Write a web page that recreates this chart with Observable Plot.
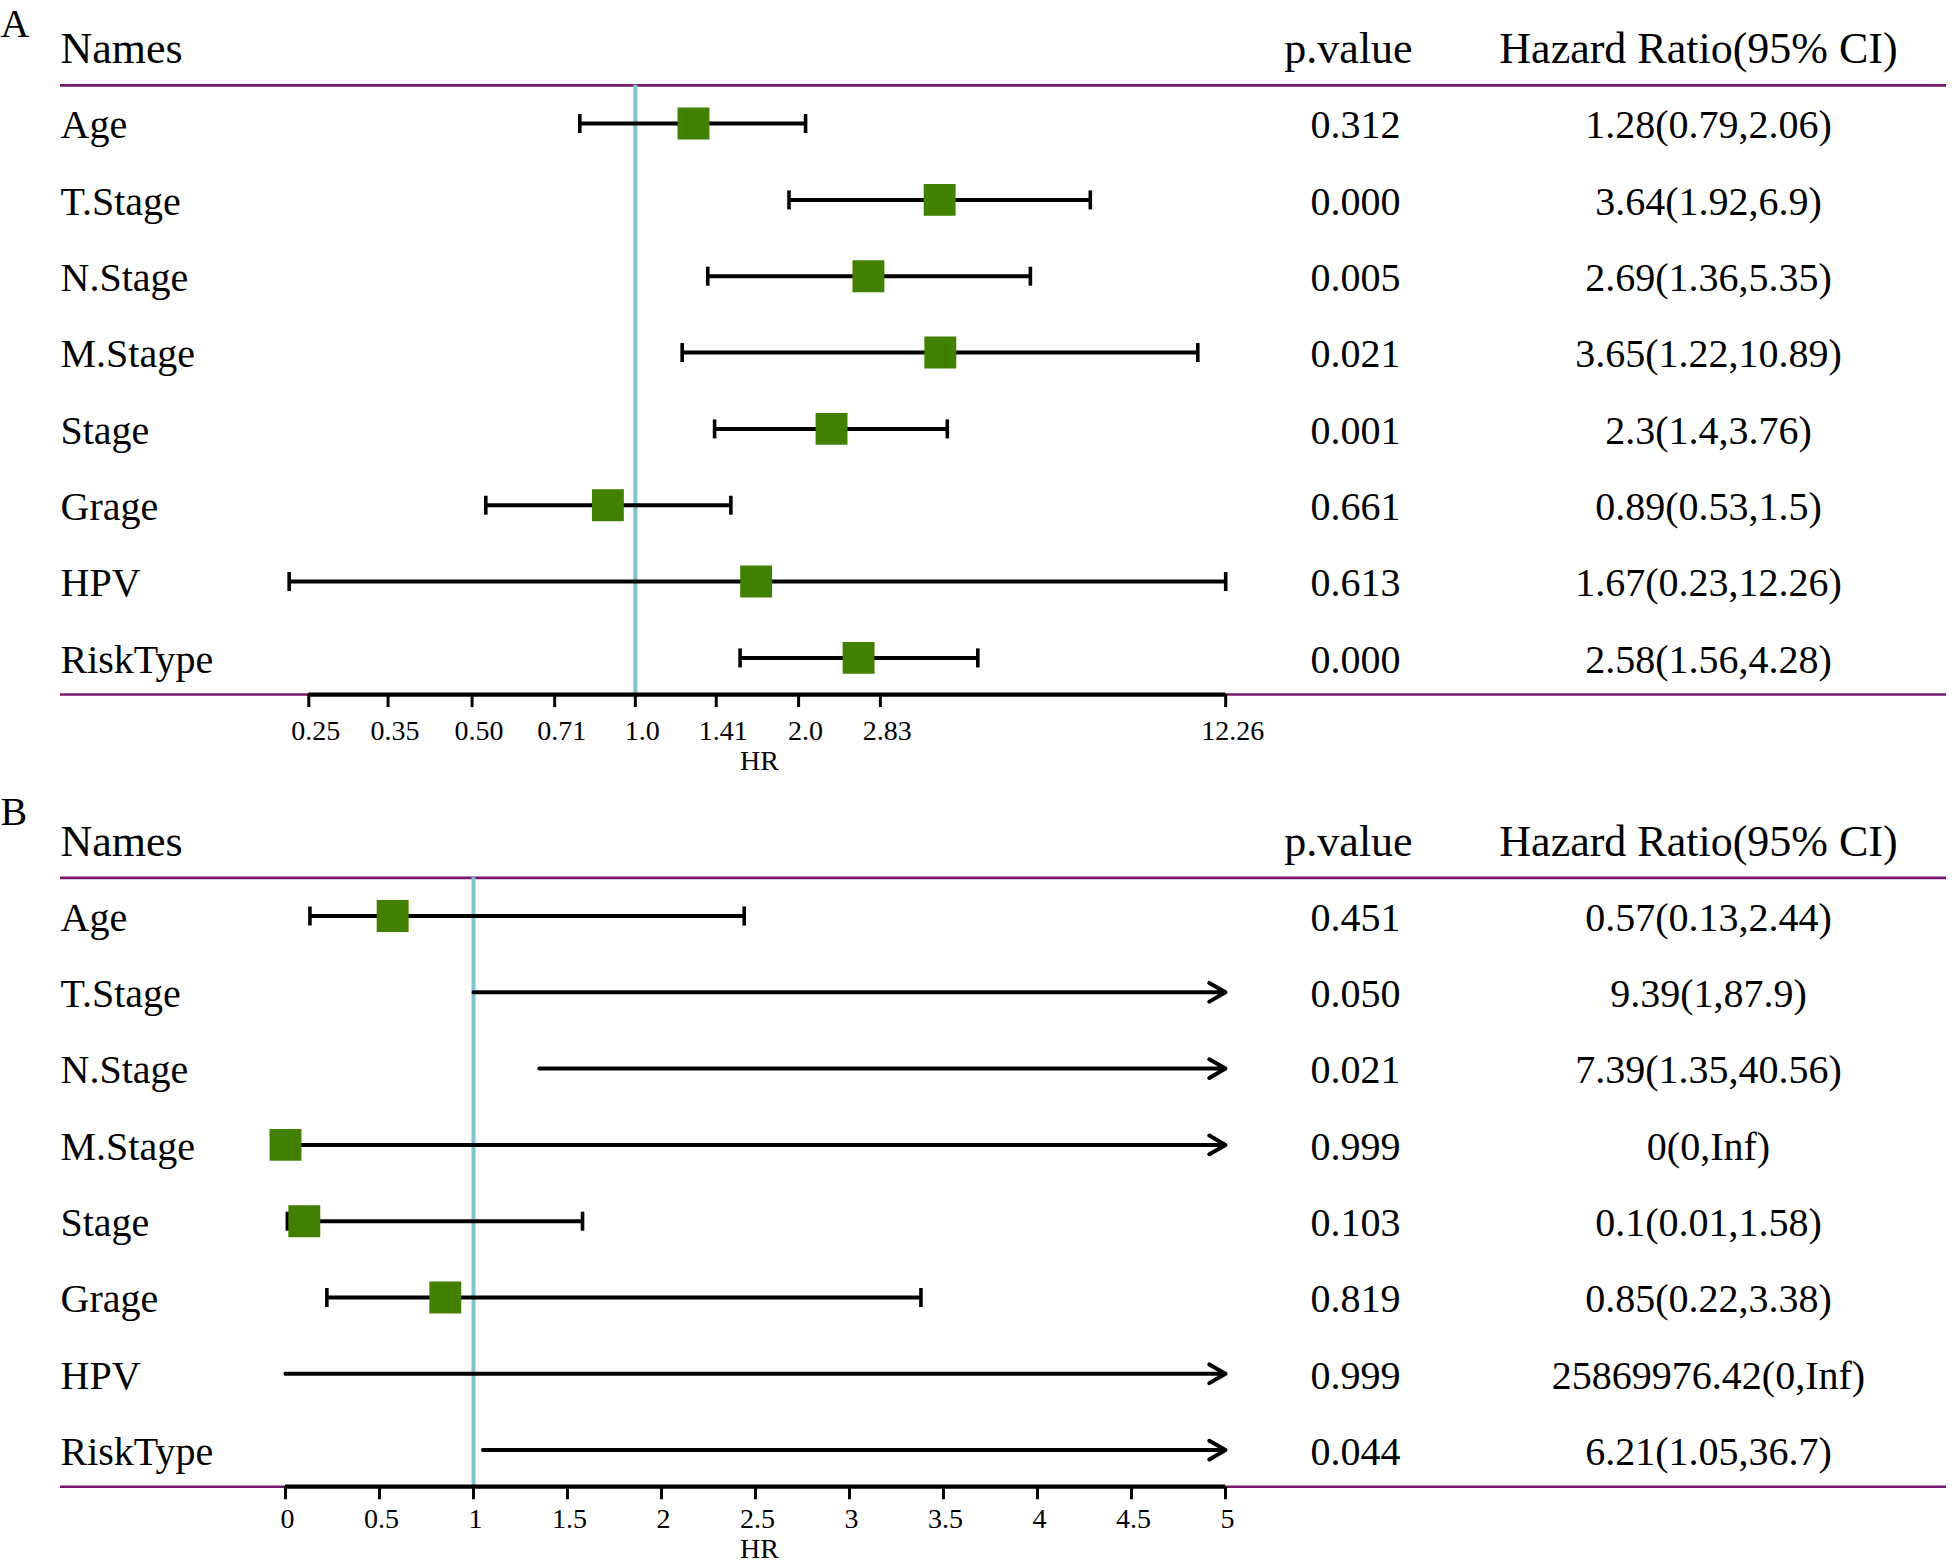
<!DOCTYPE html>
<html><head><meta charset="utf-8">
<script src="https://cdn.jsdelivr.net/npm/d3@7"></script>
<script src="https://cdn.jsdelivr.net/npm/@observablehq/plot@0.6"></script>
<style>
body{margin:0;background:#fff;}
#chart{width:1952px;background:#fff;}
#chart svg{display:block;}
</style></head><body><div id="chart"></div>
<script>
// ---------- data ----------
const names = ["Age","T.Stage","N.Stage","M.Stage","Stage","Grage","HPV","RiskType"];
const headers = ["Names","p.value","Hazard Ratio(95% CI)"];

// Panel A
const hrA    = [1.28, 3.64, 2.69, 3.65, 2.3, 0.89, 1.67, 2.58];
const lowerA = [0.79, 1.92, 1.36, 1.22, 1.4, 0.53, 0.23, 1.56];
const upperA = [2.06, 6.9, 5.35, 10.89, 3.76, 1.5, 12.26, 4.28];
const pA     = ["0.312","0.000","0.005","0.021","0.001","0.661","0.613","0.000"];
const ciA    = ["1.28(0.79,2.06)","3.64(1.92,6.9)","2.69(1.36,5.35)","3.65(1.22,10.89)","2.3(1.4,3.76)","0.89(0.53,1.5)","1.67(0.23,12.26)","2.58(1.56,4.28)"];
const ticksA = [0.25, 0.35, 0.50, 0.71, 1.0, 1.41, 2.0, 2.83, 12.26];
const tickLabelsA = ["0.25","0.35","0.50","0.71","1.0","1.41","2.0","2.83","12.26"];

// Panel B
const hrB    = [0.57, 9.39, 7.39, 0, 0.1, 0.85, 25869976.42, 6.21];
const lowerB = [0.13, 1, 1.35, 0, 0.01, 0.22, 0, 1.05];
const upperB = [2.44, 87.9, 40.56, Infinity, 1.58, 3.38, Infinity, 36.7];
const pB     = ["0.451","0.050","0.021","0.999","0.103","0.819","0.999","0.044"];
const ciB    = ["0.57(0.13,2.44)","9.39(1,87.9)","7.39(1.35,40.56)","0(0,Inf)","0.1(0.01,1.58)","0.85(0.22,3.38)","25869976.42(0,Inf)","6.21(1.05,36.7)"];
const ticksB = [0, 0.5, 1, 1.5, 2, 2.5, 3, 3.5, 4, 4.5, 5];
const tickLabelsB = ["0","0.5","1","1.5","2","2.5","3","3.5","4","4.5","5"];

// ---------- styles ----------
const PURPLE = "#74196F", BLUE = "#80C4CE", GREEN = "#428000";
const FONT = "'Liberation Serif', 'Times New Roman', serif";
const W = 1952, ML = 60, MR = 6;

const capSymbol = {draw(ctx){ ctx.moveTo(0,-9.5); ctx.lineTo(0,9.5); }};

function forest({letter, hr, lower, upper, p, ci, ticks, tickLabels, xType, xRange, height, yRange, letterY, tickDx, headerDy, tickDy, hrDy}) {
  const xmin = ticks[0], xmax = ticks[ticks.length-1];
  const topLine = 0.5, bottomLine = 8.48;
  const yPix = v => yRange[0] + v * (yRange[1] - yRange[0]) / 8;
  const marginBottom = height - yPix(bottomLine);
  const rows = names.map((n, i) => ({name: n, idx: i + 1, hr: hr[i], lower: lower[i], upper: upper[i], p: p[i], ci: ci[i]}));
  const whole = rows.filter(d => d.upper <= xmax);
  const clipped = rows.filter(d => d.upper > xmax);
  const boxes = rows.filter(d => d.hr >= xmin && d.hr <= xmax);
  const caps = whole.flatMap(d => [{idx: d.idx, v: d.lower}, {idx: d.idx, v: d.upper}]);
  const tickData = ticks.map((v, i) => ({v, label: tickLabels[i]}));

  return Plot.plot({
    width: W, height,
    marginLeft: ML, marginRight: MR, marginTop: 0, marginBottom,
    style: {fontFamily: FONT, background: "#fff", color: "#000"},
    x: {type: xType, domain: [xmin, xmax], range: xRange},
    y: {type: "linear", domain: [0, 8], range: yRange, axis: null},
    marks: [
      // panel letter
      Plot.text([letter], {frameAnchor: "top-left", textAnchor: "start", lineAnchor: "middle", dx: -ML, dy: letterY, fontSize: 40}),
      // headers
      Plot.text([headers[0]], {y: () => 0, frameAnchor: "left", textAnchor: "start", dy: headerDy, fontSize: 44}),
      Plot.text([headers[1]], {y: () => 0, frameAnchor: "left", textAnchor: "middle", dx: 1348 - ML, dy: headerDy, fontSize: 44}),
      Plot.text([headers[2]], {y: () => 0, frameAnchor: "left", textAnchor: "middle", dx: 1698 - ML, dy: headerDy, fontSize: 44}),
      // horizontal lines
      Plot.ruleY([topLine, bottomLine], {stroke: PURPLE, strokeWidth: 2.6}),
      // row texts
      Plot.text(rows, {y: "idx", text: "name", frameAnchor: "left", textAnchor: "start", dy: 2, fontSize: 40}),
      Plot.text(rows, {y: "idx", text: "p", frameAnchor: "left", textAnchor: "middle", dx: 1355 - ML, dy: 2, fontSize: 40}),
      Plot.text(rows, {y: "idx", text: "ci", frameAnchor: "left", textAnchor: "middle", dx: 1708 - ML, dy: 2, fontSize: 40}),
      // reference line
      Plot.ruleX([1], {y1: () => topLine, y2: () => bottomLine, stroke: BLUE, strokeWidth: 4}),
      // confidence intervals
      Plot.ruleY(whole, {y: "idx", x1: "lower", x2: "upper", stroke: "#000", strokeWidth: 4}),
      Plot.dot(caps, {x: "v", y: "idx", symbol: capSymbol, stroke: "#000", fill: "none", strokeWidth: 3.6}),
      Plot.arrow(clipped, {x1: "lower", x2: () => xmax, y1: "idx", y2: "idx", stroke: "#000", strokeWidth: 4, headLength: 7, headAngle: 60}),
      // boxes
      Plot.dot(boxes, {x: "hr", y: "idx", symbol: "square", r: 18, fill: GREEN, stroke: "none"}),
      // x axis
      Plot.ruleY([bottomLine], {x1: () => xmin, x2: () => xmax, stroke: "#000", strokeWidth: 4.2}),
      Plot.axisX({ticks, tickSize: 13, strokeWidth: 3, tickFormat: () => ""}),
      Plot.text(tickData, {x: "v", text: "label", frameAnchor: "bottom", lineAnchor: "middle", dy: tickDy, dx: tickDx, fontSize: 28}),
      Plot.text(["HR"], {frameAnchor: "bottom-left", textAnchor: "middle", lineAnchor: "middle", dx: 759 - ML, dy: hrDy, fontSize: 28})
    ]
  });
}

const chart = document.getElementById("chart");
chart.append(forest({
  letter: "A", hr: hrA, lower: lowerA, upper: upperA, p: pA, ci: ciA,
  ticks: ticksA, tickLabels: tickLabelsA, xType: "log", xRange: [308.3, 1225.2],
  height: 782, yRange: [46.7, 657.4], letterY: 23.5, tickDx: 7, headerDy: 1.5, tickDy: 36, hrDy: 66
}));
chart.append(forest({
  letter: "B", hr: hrB, lower: lowerB, upper: upperB, p: pB, ci: ciB,
  ticks: ticksB, tickLabels: tickLabelsB, xType: "linear", xRange: [285, 1225],
  height: 783, yRange: [57.2, 667.6], letterY: 29.5, tickDx: 2, headerDy: 2.5, tickDy: 32, hrDy: 62.5
}));
</script></body></html>
